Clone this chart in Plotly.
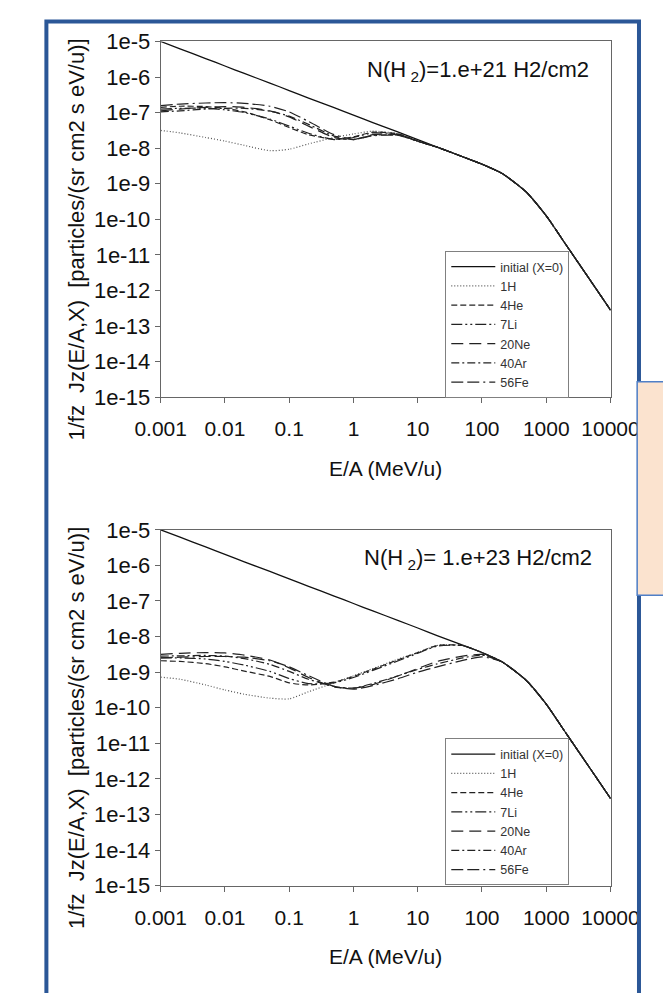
import plotly.graph_objects as go

# ---------------- data ----------------
energy = [0.001, 0.002, 0.005, 0.01, 0.02, 0.05, 0.1, 0.2, 0.5, 1, 2, 5, 10,
          20, 50, 100, 200, 300, 500, 1000, 2000, 5000, 10000]

initial = [1e-5, 6.2e-6, 3.31e-6, 2.04e-6, 1.26e-6, 6.76e-7, 4.17e-7, 2.57e-7,
           1.38e-7, 8.51e-8, 5.25e-8, 2.82e-8, 1.74e-8, 1.07e-8, 5.75e-9,
           3.55e-9, 2.0e-9, 1.2e-9, 5.62e-10, 1.26e-10, 2.0e-11, 1.78e-12, 2.82e-13]

# N(H2) = 1e21 H2/cm2
top_1H = [3.16e-8, 2.69e-8, 2.0e-8, 1.58e-8, 1.2e-8, 8.51e-9, 9.33e-9, 1.32e-8,
          2.0e-8, 2.51e-8, 3.02e-8, 2.51e-8, 1.58e-8, 1.07e-8, 5.75e-9, 3.55e-9,
          2.0e-9, 1.2e-9, 5.62e-10, 1.26e-10, 2.0e-11, 1.78e-12, 2.82e-13]
top_4He = [1.41e-7, 1.51e-7, 1.48e-7, 1.32e-7, 1.05e-7, 6.31e-8, 3.8e-8, 2.4e-8,
           1.78e-8, 2.09e-8, 2.82e-8, 2.51e-8, 1.58e-8, 1.07e-8, 5.75e-9, 3.55e-9,
           2.0e-9, 1.2e-9, 5.62e-10, 1.26e-10, 2.0e-11, 1.78e-12, 2.82e-13]
top_7Li = [1.26e-7, 1.32e-7, 1.32e-7, 1.2e-7, 1.0e-7, 6.61e-8, 4.17e-8, 2.63e-8,
           1.74e-8, 2.0e-8, 2.69e-8, 2.45e-8, 1.58e-8, 1.07e-8, 5.75e-9, 3.55e-9,
           2.0e-9, 1.2e-9, 5.62e-10, 1.26e-10, 2.0e-11, 1.78e-12, 2.82e-13]
top_20Ne = [1.12e-7, 1.26e-7, 1.41e-7, 1.48e-7, 1.41e-7, 1.12e-7, 7.59e-8, 4.17e-8,
            2.0e-8, 1.74e-8, 2.4e-8, 2.4e-8, 1.58e-8, 1.07e-8, 5.75e-9, 3.55e-9,
            2.0e-9, 1.2e-9, 5.62e-10, 1.26e-10, 2.0e-11, 1.78e-12, 2.82e-13]
top_40Ar = [1.05e-7, 1.12e-7, 1.26e-7, 1.32e-7, 1.32e-7, 1.1e-7, 7.94e-8, 4.68e-8,
            2.19e-8, 1.74e-8, 2.29e-8, 2.34e-8, 1.58e-8, 1.07e-8, 5.75e-9, 3.55e-9,
            2.0e-9, 1.2e-9, 5.62e-10, 1.26e-10, 2.0e-11, 1.78e-12, 2.82e-13]
top_56Fe = [1.58e-7, 1.74e-7, 1.86e-7, 1.91e-7, 1.82e-7, 1.51e-7, 1.05e-7, 5.62e-8,
            2.4e-8, 1.78e-8, 2.24e-8, 2.29e-8, 1.55e-8, 1.07e-8, 5.75e-9, 3.55e-9,
            2.0e-9, 1.2e-9, 5.62e-10, 1.26e-10, 2.0e-11, 1.78e-12, 2.82e-13]

# N(H2) = 1e23 H2/cm2
bot_1H = [7.24e-10, 6.31e-10, 4.37e-10, 3.16e-10, 2.4e-10, 1.86e-10, 1.78e-10, 2.82e-10,
          5.01e-10, 7.94e-10, 1.26e-9, 2.34e-9, 3.55e-9, 5.62e-9, 5.6e-9, 3.55e-9,
          2.0e-9, 1.2e-9, 5.62e-10, 1.26e-10, 2.0e-11, 1.78e-12, 2.82e-13]
bot_4He = [2.09e-9, 2.0e-9, 1.74e-9, 1.41e-9, 1.07e-9, 7.59e-10, 5.01e-10, 4.37e-10,
           5.25e-10, 7.59e-10, 1.2e-9, 2.24e-9, 3.55e-9, 5.62e-9, 5.6e-9, 3.55e-9,
           2.0e-9, 1.2e-9, 5.62e-10, 1.26e-10, 2.0e-11, 1.78e-12, 2.82e-13]
bot_7Li = [2.51e-9, 2.51e-9, 2.34e-9, 2.0e-9, 1.58e-9, 1.05e-9, 6.61e-10, 4.79e-10,
           5.01e-10, 7.08e-10, 1.12e-9, 2.09e-9, 3.39e-9, 5.37e-9, 5.6e-9, 3.55e-9,
           2.0e-9, 1.2e-9, 5.62e-10, 1.26e-10, 2.0e-11, 1.78e-12, 2.82e-13]
bot_20Ne = [3.16e-9, 3.39e-9, 3.55e-9, 3.47e-9, 3.02e-9, 2.19e-9, 1.32e-9, 7.08e-10,
            3.8e-10, 3.55e-10, 4.47e-10, 7.94e-10, 1.26e-9, 2.0e-9, 2.82e-9, 3.16e-9,
            2.0e-9, 1.2e-9, 5.62e-10, 1.26e-10, 2.0e-11, 1.78e-12, 2.82e-13]
bot_40Ar = [2.82e-9, 2.88e-9, 2.95e-9, 2.82e-9, 2.4e-9, 1.66e-9, 1.05e-9, 6.31e-10,
            3.98e-10, 3.55e-10, 4.79e-10, 7.94e-10, 1.2e-9, 1.7e-9, 2.51e-9, 3.02e-9,
            2.0e-9, 1.2e-9, 5.62e-10, 1.26e-10, 2.0e-11, 1.78e-12, 2.82e-13]
bot_56Fe = [2.51e-9, 2.63e-9, 2.75e-9, 2.75e-9, 2.63e-9, 2.09e-9, 1.41e-9, 7.94e-10,
            3.98e-10, 3.31e-10, 4.17e-10, 6.61e-10, 1.0e-9, 1.41e-9, 2.14e-9, 2.69e-9,
            2.0e-9, 1.2e-9, 5.62e-10, 1.26e-10, 2.0e-11, 1.78e-12, 2.82e-13]

series_names = ["initial (X=0)", "1H", "4He", "7Li", "20Ne", "40Ar", "56Fe"]
top_series = [initial, top_1H, top_4He, top_7Li, top_20Ne, top_40Ar, top_56Fe]
bot_series = [initial, bot_1H, bot_4He, bot_7Li, bot_20Ne, bot_40Ar, bot_56Fe]

x_tickvals = [0.001, 0.01, 0.1, 1, 10, 100, 1000, 10000]
x_ticktext = ["0.001", "0.01", "0.1", "1", "10", "100", "1000", "10000"]
y_tickvals = [1e-5, 1e-6, 1e-7, 1e-8, 1e-9, 1e-10, 1e-11, 1e-12, 1e-13, 1e-14, 1e-15]
y_ticktext = ["1e-5", "1e-6", "1e-7", "1e-8", "1e-9", "1e-10", "1e-11",
              "1e-12", "1e-13", "1e-14", "1e-15"]

panel_labels = ["N(H<sub> 2</sub>)=1.e+21 H2/cm2", "N(H<sub> 2</sub>)= 1.e+23 H2/cm2"]
y_title = "1/fz  Jz(E/A,X)  [particles/(sr cm2 s eV/u)]"
x_title = "E/A (MeV/u)"

# ---------------- styling ----------------
W, H = 671, 993
OFF = 8  # page body margin: screen position = figure position + 8 px
FONT = "Liberation Sans, Arial, sans-serif"
dashes = ["solid", "1px,2px", "6px,3px", "11px,3px,2px,3px,2px,3px",
          "12px,6px", "8px,3px,2px,3px", "12px,4px,12px,4px,2px,4px"]
colors = ["#111111", "#555555", "#222222", "#222222", "#222222", "#222222", "#222222"]
widths = [1.3, 1.2, 1.2, 1.2, 1.2, 1.2, 1.2]


def px_x(p):  # p = desired screen x
    return (p - OFF) / W


def px_y(p):  # p = desired screen y
    return 1 - (p - OFF) / H


fig = go.Figure()
for series, xa, ya, leg in [(top_series, "x", "y", "legend"),
                            (bot_series, "x2", "y2", "legend2")]:
    for i, (name, vals) in enumerate(zip(series_names, series)):
        fig.add_trace(go.Scatter(
            x=energy, y=vals, name=name, mode="lines",
            line=dict(color=colors[i], width=widths[i], dash=dashes[i],
                      shape="spline", smoothing=0.6),
            xaxis=xa, yaxis=ya, legend=leg, showlegend=True,
        ))

axis_common = dict(
    type="log", showgrid=False, zeroline=False, showline=True, mirror=True,
    linecolor="#666666", linewidth=1, ticks="outside", ticklen=5,
    tickcolor="#666666", tickwidth=1,
)
xfont = dict(family=FONT, size=21, color="#111111")
yfont = dict(family=FONT, size=22, color="#111111")

plot_left, plot_right = 146, 636          # screen pixels
panels_px = [(30, 395), (531, 896)]       # screen pixels (top, bottom)

legend_common = dict(xanchor="left", yanchor="top", bgcolor="white",
                     bordercolor="#808080", borderwidth=1, itemwidth=44,
                     font=dict(family=FONT, size=12.5, color="#333333"),
                     tracegroupgap=0)

fig.update_layout(
    width=W, height=H,
    margin=dict(l=0, r=0, t=0, b=0),
    paper_bgcolor="white", plot_bgcolor="white",
    font=dict(family=FONT, color="#111111"),
    xaxis=dict(axis_common, domain=[px_x(plot_left), px_x(plot_right)], range=[-3, 4],
               tickvals=x_tickvals, ticktext=x_ticktext, anchor="y",
               tickfont=xfont, ticklabelstandoff=8),
    yaxis=dict(axis_common, domain=[px_y(panels_px[0][1]), px_y(panels_px[0][0])],
               range=[-15, -5], tickvals=y_tickvals, ticktext=y_ticktext, anchor="x",
               tickfont=yfont),
    xaxis2=dict(axis_common, domain=[px_x(plot_left), px_x(plot_right)], range=[-3, 4],
                tickvals=x_tickvals, ticktext=x_ticktext, anchor="y2",
                tickfont=xfont, ticklabelstandoff=8),
    yaxis2=dict(axis_common, domain=[px_y(panels_px[1][1]), px_y(panels_px[1][0])],
                range=[-15, -5], tickvals=y_tickvals, ticktext=y_ticktext, anchor="x2",
                tickfont=yfont),
    legend=dict(legend_common, x=px_x(456), y=px_y(245)),
    legend2=dict(legend_common, x=px_x(456), y=px_y(745)),
)

annotations = []
for k, (ptop, pbot) in enumerate(panels_px):
    annotations.append(dict(
        text=panel_labels[k], x=px_x(492), y=px_y(ptop + 30), xref="paper", yref="paper",
        xanchor="center", yanchor="middle", showarrow=False,
        font=dict(family=FONT, size=22, color="#111111")))
    annotations.append(dict(
        text=x_title, x=px_x(391), y=px_y(pbot + 73), xref="paper", yref="paper",
        xanchor="center", yanchor="middle", showarrow=False,
        font=dict(family=FONT, size=21, color="#111111")))
    annotations.append(dict(
        text=y_title, x=px_x(54), y=px_y(ptop + 203), xref="paper", yref="paper",
        xanchor="center", yanchor="middle", showarrow=False, textangle=-90,
        font=dict(family=FONT, size=22, color="#111111")))
fig.update_layout(annotations=annotations)

# slide decorations: dark-blue frame and the partly visible box on the right
fig.add_shape(type="rect", xref="paper", yref="paper",
              x0=px_x(21.5), x1=px_x(667), y0=-0.05, y1=px_y(9.5),
              line=dict(color="#2B5797", width=4), fillcolor="rgba(0,0,0,0)", layer="above")
fig.add_shape(type="rect", xref="paper", yref="paper",
              x0=px_x(665), x1=1.05, y0=px_y(598), y1=px_y(379),
              line=dict(color="#4F7FC7", width=1.5), fillcolor="#FBE3CF", layer="above")

fig.write_html("out.html")
